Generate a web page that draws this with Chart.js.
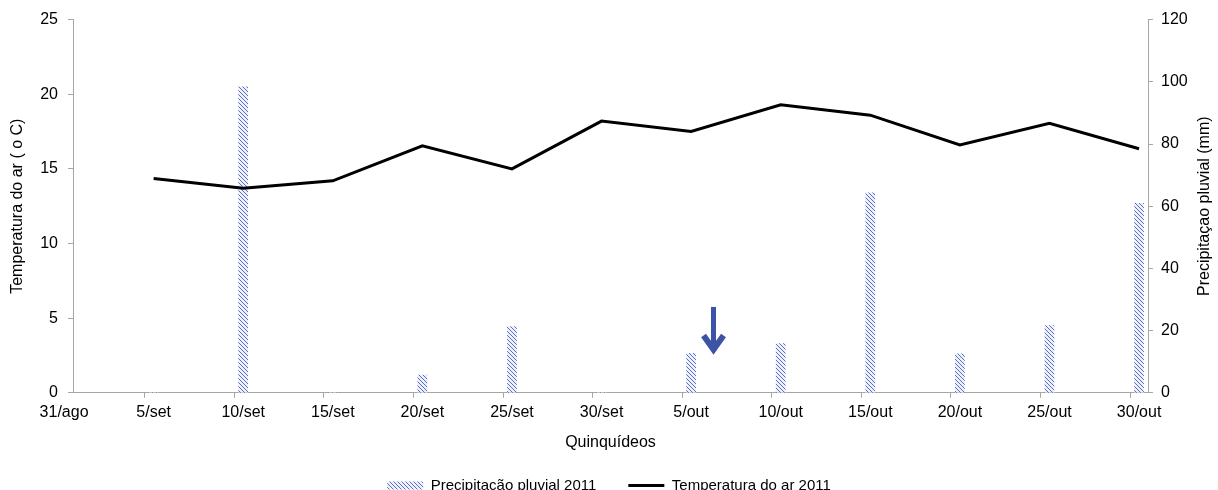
<!DOCTYPE html>
<html>
<head>
<meta charset="utf-8">
<script src="https://cdn.jsdelivr.net/npm/chart.js@4.4.1/dist/chart.umd.min.js"></script>
<style>
  html, body { margin: 0; padding: 0; background: #fff; overflow: hidden; }
  #wrap { width: 1218px; height: 503px; }
</style>
</head>
<body>
<div id="wrap"><canvas id="chart" width="1218" height="503"></canvas></div>
<script>
'use strict';

// Quinquídeos (x categories)
const categories = ['31/ago', '5/set', '10/set', '15/set', '20/set', '25/set', '30/set',
  '5/out', '10/out', '15/out', '20/out', '25/out', '30/out'];
// Precipitação pluvial 2011 (mm, right axis)
const precipitation = [0, 0, 98.4, 0, 5.7, 21.3, 0, 12.7, 15.8, 64.3, 12.5, 21.6, 60.9];
// Temperatura do ar 2011 (°C, left axis)
const temperature = [null, 14.35, 13.7, 14.2, 16.55, 15.0, 18.2, 17.5, 19.3, 18.6, 16.6, 18.05, 16.35];
// axis tick labels
const tempTicks = [0, 5, 10, 15, 20, 25];
const rainTicks = [0, 20, 40, 60, 80, 100, 120];
// arrow annotation (data units: category index, °C)
const arrowAt = { x: 7.25, top: 5.75, tip: 2.5 };

const canvas = document.getElementById('chart');
const ctx = canvas.getContext('2d');

Chart.defaults.font.family = '"Liberation Sans", Arial, sans-serif';
Chart.defaults.font.size = 16;
Chart.defaults.color = '#000';

const axisGray = '#a6a6a6';

function makeHatch() {
  const c = document.createElement('canvas');
  c.width = 4; c.height = 4;
  const g = c.getContext('2d');
  g.fillStyle = '#edf0fa';
  g.fillRect(0, 0, 4, 4);
  g.strokeStyle = '#5a70bd';
  g.lineWidth = 1;
  g.beginPath();
  g.moveTo(0, 0); g.lineTo(4, 4);
  g.moveTo(-1, 3); g.lineTo(1, 5);
  g.moveTo(3, -1); g.lineTo(5, 1);
  g.stroke();
  return ctx.createPattern(c, 'repeat');
}
const hatch = makeHatch();

// right axis title reads bottom-to-top, so draw it here
const rightTitle = {
  id: 'rightTitle',
  afterDraw(chart) {
    const s = chart.scales.y2;
    const a = chart.chartArea;
    const c = chart.ctx;
    c.save();
    c.translate(s.right - 13, (a.top + a.bottom) / 2);
    c.rotate(-Math.PI / 2);
    c.font = '16px "Liberation Sans", Arial, sans-serif';
    c.fillStyle = '#000';
    c.textAlign = 'center';
    c.textBaseline = 'middle';
    c.fillText('Precipitaçao pluvial (mm)', 0, 0);
    c.restore();
  }
};

const arrow = {
  id: 'arrow',
  afterDatasetsDraw(chart) {
    const x = chart.scales.x.getPixelForValue(arrowAt.x);
    const y0 = chart.scales.y.getPixelForValue(arrowAt.top);
    const y1 = chart.scales.y.getPixelForValue(arrowAt.tip);
    const c = chart.ctx;
    c.save();
    c.strokeStyle = '#3d54a6';
    c.lineWidth = 5;
    c.beginPath();
    c.moveTo(x, y0);
    c.lineTo(x, y1 - 6);
    c.stroke();
    c.lineWidth = 6;
    c.lineJoin = 'miter';
    c.beginPath();
    c.moveTo(x - 10, y1 - 20);
    c.lineTo(x, y1 - 6);
    c.lineTo(x + 10, y1 - 20);
    c.stroke();
    c.restore();
  }
};

new Chart(ctx, {
  data: {
    datasets: [
      {
        type: 'bar',
        label: 'Precipitação pluvial 2011',
        data: precipitation.map((v, i) => ({ x: i, y: v })),
        backgroundColor: hatch,
        borderWidth: 0,
        barThickness: 9,
        yAxisID: 'y2',
        order: 2
      },
      {
        type: 'line',
        label: 'Temperatura do ar 2011',
        data: temperature.map((v, i) => ({ x: i, y: v })),
        borderColor: '#000',
        borderWidth: 3,
        pointRadius: 0,
        tension: 0,
        yAxisID: 'y',
        order: 1
      }
    ]
  },
  options: {
    responsive: false,
    animation: false,
    layout: { padding: { top: 19, left: 0, right: 0, bottom: 0 } },
    plugins: {
      tooltip: { enabled: false },
      legend: {
        position: 'bottom',
        labels: {
          usePointStyle: true,
          pointStyleWidth: 36,
          boxHeight: 8,
          padding: 32,
          font: { size: 15 },
          sort: (a, b) => a.datasetIndex - b.datasetIndex,
          generateLabels(chart) {
            const items = Chart.defaults.plugins.legend.labels.generateLabels(chart);
            items.forEach(it => {
              if (it.datasetIndex === 1) {
                it.pointStyle = 'line';
                it.lineWidth = 3;
                it.strokeStyle = '#000';
              } else {
                it.pointStyle = 'rect';
                it.lineWidth = 0;
                it.fillStyle = hatch;
              }
            });
            return items;
          }
        }
      }
    },
    scales: {
      x: {
        type: 'linear',
        offset: false,
        min: 0.1,
        max: 12.1,
        afterBuildTicks(axis) {
          axis.ticks = categories.map((c, i) => ({ value: i - 0.1 }));
        },
        ticks: {
          callback: (v, i) => categories[i],
          autoSkip: false,
          maxRotation: 0,
          labelOffset: 9,
          padding: 5
        },
        grid: {
          offset: false,
          drawOnChartArea: false,
          drawTicks: true,
          tickLength: 5,
          tickColor: c => (c.index === 0 ? 'rgba(0,0,0,0)' : axisGray)
        },
        border: { color: axisGray, width: 1 },
        title: {
          display: true,
          text: 'Quinquídeos',
          font: { size: 16 },
          padding: { top: 5.6, bottom: -5.8 }
        }
      },
      y: {
        position: 'left',
        min: tempTicks[0],
        max: tempTicks[tempTicks.length - 1],
        afterBuildTicks(axis) { axis.ticks = tempTicks.map(v => ({ value: v })); },
        afterFit(axis) { axis.width = 73; },
        ticks: { padding: 10 },
        grid: { drawOnChartArea: false, tickLength: 5, tickColor: axisGray },
        border: { color: axisGray, width: 1 },
        title: {
          display: true,
          text: 'Temperatura do ar ( o C)',
          font: { size: 16 },
          padding: { top: 8, bottom: 0 }
        }
      },
      y2: {
        position: 'right',
        min: rainTicks[0],
        max: rainTicks[rainTicks.length - 1],
        afterBuildTicks(axis) { axis.ticks = rainTicks.map(v => ({ value: v })); },
        afterFit(axis) { axis.width = 70; },
        ticks: { padding: 8 },
        grid: { drawOnChartArea: false, tickLength: 5, tickColor: axisGray },
        border: { color: axisGray, width: 1 }
      }
    }
  },
  plugins: [rightTitle, arrow]
});
</script>
</body>
</html>
